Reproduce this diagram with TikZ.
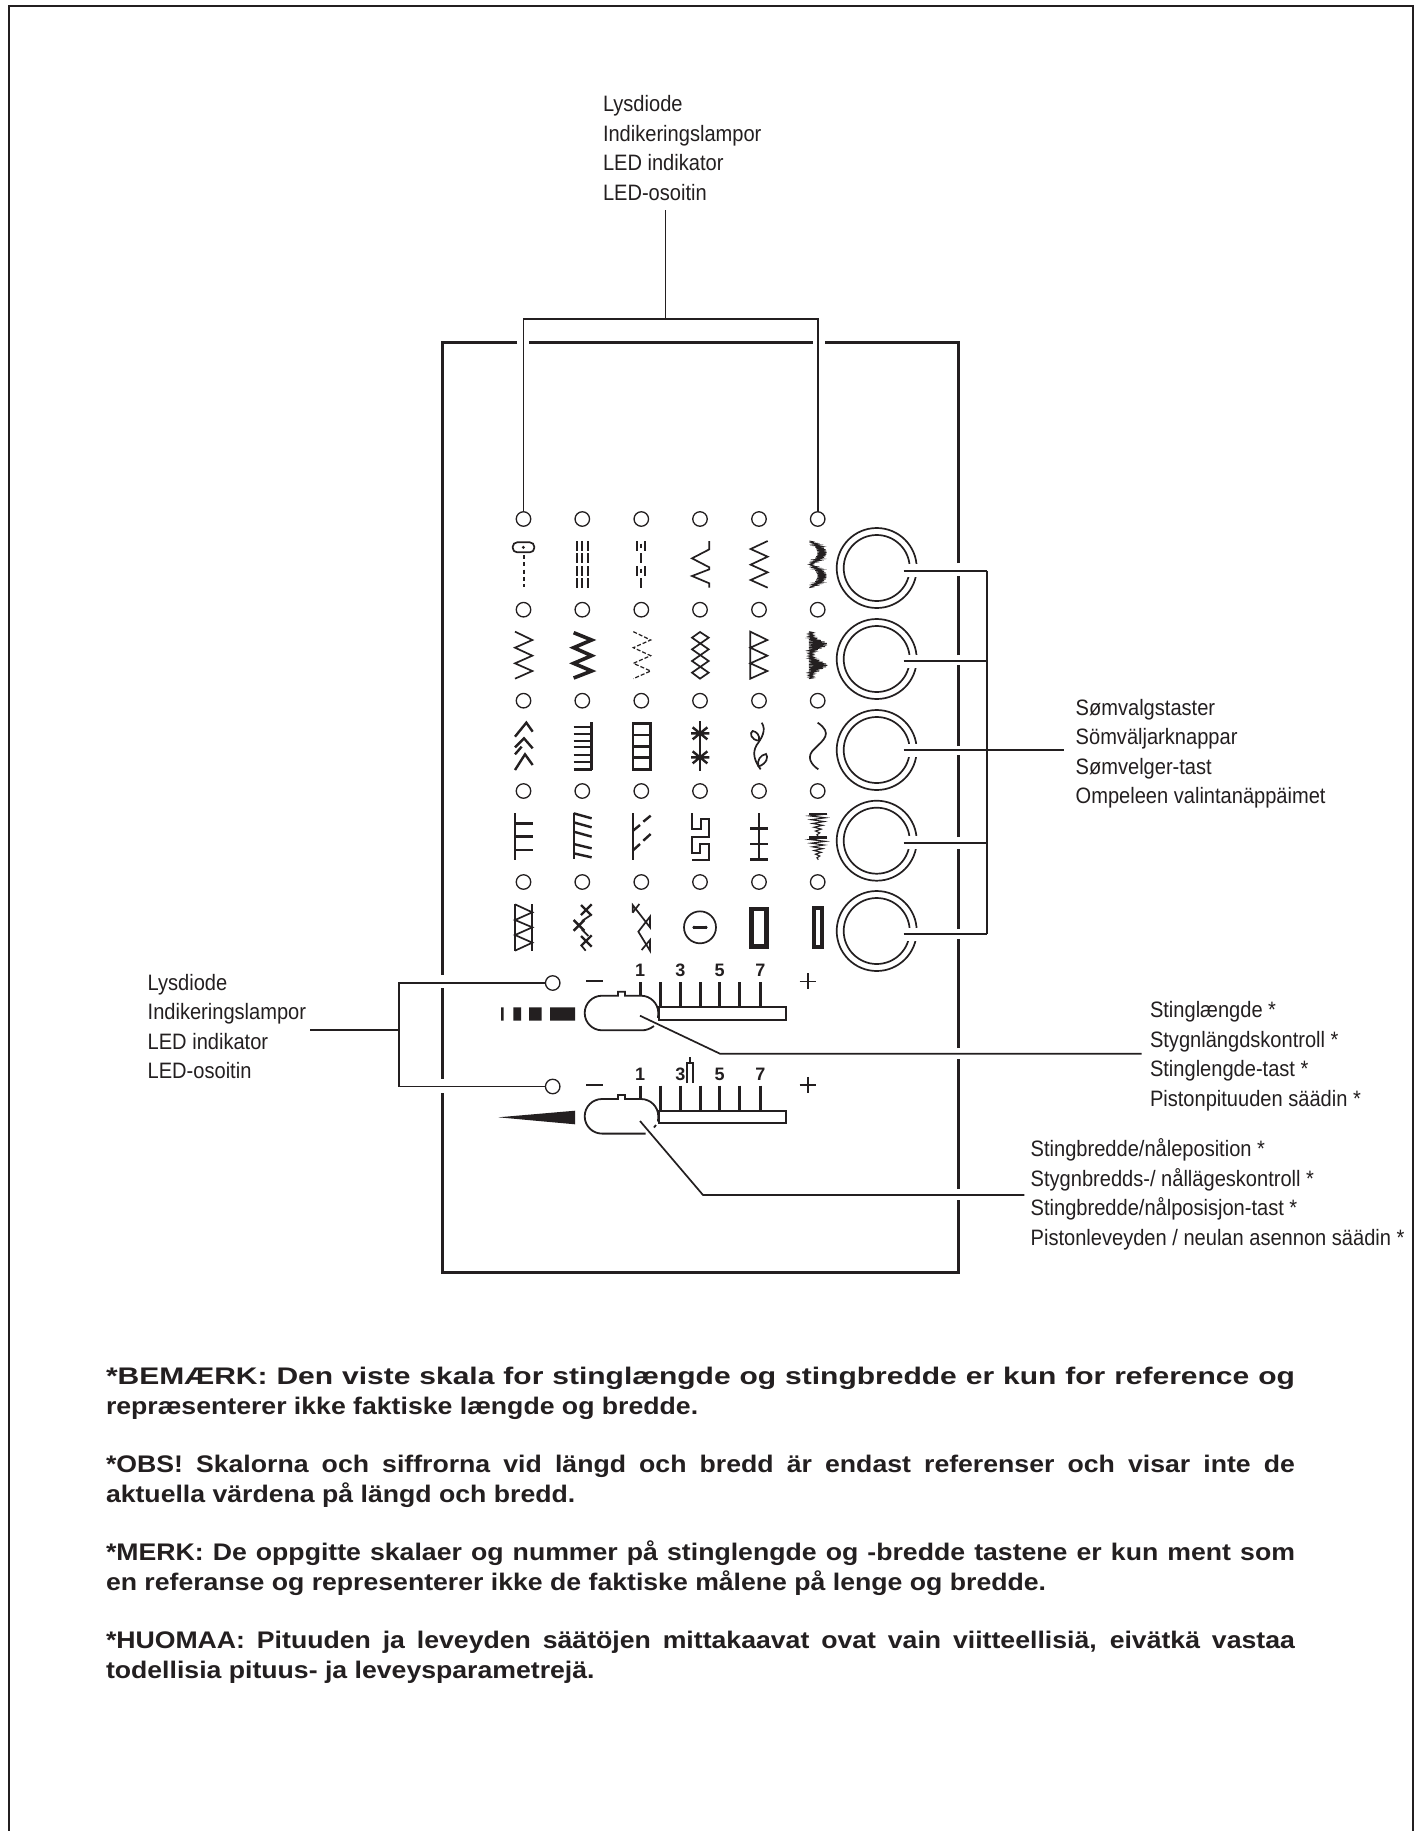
\documentclass[tikz,border=0pt]{standalone}
\usepackage{fontspec}
\setmainfont{Liberation Sans}
\newfontfamily\nfont[FakeStretch=0.9]{Liberation Sans}
\newfontfamily\notefont[FakeStretch=1.11,UprightFont=* Bold]{Liberation Sans}
\newfontfamily\notewide[FakeStretch=1.25,UprightFont=* Bold]{Liberation Sans}
\newcommand{\labtext}[1]{\nfont\fontsize{22.3}{29.5}\selectfont\begin{tabular}[t]{@{}l@{}}#1\end{tabular}}
\newcommand{\notetext}[1]{\notefont\fontsize{24}{30}\selectfont\begin{tabular}[t]{@{}l@{}}#1\end{tabular}}
\newcommand{\fullline}[1]{\makebox[1189pt][s]{#1}}
\definecolor{ink}{HTML}{231F20}
\tikzset{
  every path/.style={color=ink},
  lab/.style={anchor=base west,inner sep=0pt,outer sep=0pt,text=ink},
  note/.style={anchor=base west,inner sep=0pt,outer sep=0pt,text=ink},
  led/.style={circle,draw=ink,line width=1.3pt,minimum size=14.5pt,inner sep=0pt,outer sep=0pt},
  ring/.style={circle,draw=ink,line width=1.7pt,inner sep=0pt,outer sep=0pt},
  frameline/.style={line width=3pt,line cap=butt},
  wire/.style={line width=1.7pt,line join=miter},
  st/.style={line width=1.7pt,line join=miter},
  stb/.style={line width=2.4pt,line join=miter},
  stc/.style={line width=3.6pt,line join=miter},
  num/.style={font=\bfseries\fontsize{18}{18}\selectfont,inner sep=0pt,anchor=base,text=ink},
}
\begin{document}
\begin{tikzpicture}[x=1pt,y=-1pt]
\useasboundingbox (0,0) rectangle (1415,1831);
\fill[white] (0,0) rectangle (1415,1831);
% outer frame
\draw[line width=2pt] (9,1831) -- (9,5.5) -- (1413,5.5) -- (1413,1831);
% panel
\draw[frameline] (517,342) -- (442,342) -- (442,975);
\draw[frameline] (442,988) -- (442,1079);
\draw[frameline] (442,1093) -- (442,1272.5) -- (958,1272.5) -- (958,1200);
\draw[frameline] (958,1189) -- (958,1059);
\draw[frameline] (958,1048) -- (958,939);
\draw[frameline] (958,929) -- (958,849);
\draw[frameline] (958,837) -- (958,755);
\draw[frameline] (958,746) -- (958,665);
\draw[frameline] (958,655) -- (958,576);
\draw[frameline] (958,563) -- (958,342) -- (824.5,342);
\draw[frameline] (529,342) -- (813,342);
% LEDs
\foreach \r/\y in {1/519,2/609.7,3/700.7,4/791,5/882}{
  \foreach \c/\x in {1/523.5,2/582.3,3/641.3,4/700,5/759,6/817.7}{
    \node[led] (led\r\c) at (\x,\y) {};
  }
}
\node[led] (ledA) at (552.7,983) {};
\node[led] (ledB) at (552.7,1086.5) {};
% buttons
\foreach \r/\y/\ly in {1/568/570.7,2/659/661,3/750/750.3,4/840.7/842.7,5/931/934}{
  \node[ring,minimum size=80pt] (btn\r) at (876.7,\y) {};
  \node[ring,minimum size=66pt] (btnin\r) at (876.7,\y) {};
  \fill[white] (905,\ly-6.5) rectangle (921,\ly+6.5);
  \coordinate (bus\r) at (986.7,\ly);
  \coordinate (tap\r) at (903.5,\ly);
  \draw[wire] (tap\r) -- (bus\r);
}
% right-hand bracket
\draw[wire] (bus1) -- (bus5);
\coordinate (busend) at (1064,750.3);
\draw[wire] (bus3) -- (busend);
% labels
\node[lab] (ltop) at (603,111.7) {\labtext{Lysdiode\\Indikeringslampor\\LED indikator\\LED-osoitin}};
\node[lab] (lleft) at (147.7,990) {\labtext{Lysdiode\\Indikeringslampor\\LED indikator\\LED-osoitin}};
\node[lab] (lsew) at (1075.7,715) {\labtext{Sømvalgstaster\\Sömväljarknappar\\Sømvelger-tast\\Ompeleen valintanäppäimet}};
\node[lab] (llen) at (1150,1017.7) {\labtext{Stinglængde *\\Stygnlängdskontroll *\\Stinglengde-tast *\\Pistonpituuden säädin *}};
\node[lab] (lwid) at (1030.7,1156.7) {\labtext{Stingbredde/nåleposition *\\Stygnbredds-/ nållägeskontroll *\\Stingbredde/nålposisjon-tast *\\Pistonleveyden / neulan asennon säädin *}};
% top bracket
\coordinate (stemtop) at (665.4,210);
\coordinate (stembot) at (665.4,319.3);
\draw[wire] (stemtop) -- (stembot);
\draw[wire] (led11.north) -- (led11.north |- stembot) -- (led16.north |- stembot) -- (led16.north);
% left bracket
\coordinate (lstub) at (310,1030);
\coordinate (ljoin) at (399.3,1030);
\draw[wire] (lstub) -- (ljoin);
\draw[wire] (ledA.west) -- (ledA.west -| ljoin) -- (ledB.west -| ljoin) -- (ledB.west);
% scales
\foreach \s/\o in {a/0,b/103.5}{
  \begin{scope}[yshift=-\o pt]
  \draw[line width=1.7pt] (586,981.3) -- (602.7,981.3);
  \draw[line width=1.6pt] (807.7,973.3) -- (807.7,989.3) (799.5,981.3) -- (816,981.3);
  \draw[line width=1.7pt] (659,1007.3) rectangle (786,1019.7);
  \draw[line width=2.4pt] (640.3,982) -- (640.3,996);
  \foreach \tx in {660.3,680.3,700.3,719.3,739.3,760.3}{
    \draw[line width=2.4pt] (\tx,982) -- (\tx,1007.3);
  }
  \node[num] (n1\s) at (640,976.7) {1};
  \node[num] (n3\s) at (680.3,976.7) {3};
  \node[num] (n5\s) at (719.5,976.7) {5};
  \node[num] (n7\s) at (760.3,976.7) {7};
  \end{scope}
}
% slider outlines
\draw[line width=1.8pt] (654,1026) .. controls (650,1029) and (646,1030.3) .. (642,1030.3) -- (602,1030.3) arc[start angle=90,end angle=270,radius=17.3] -- (618,995.7) -- (618,991.7) -- (625,991.7) -- (625,995.7) -- (641,995.7) arc[start angle=-90,end angle=0,radius=17.3] -- (658,1018);
\draw[line width=1.8pt] (645.7,1133.6) -- (602,1133.6) arc[start angle=90,end angle=270,radius=17.3] -- (618,1099) -- (618,1095) -- (625,1095) -- (625,1099) -- (641,1099) arc[start angle=-90,end angle=0,radius=17.3] -- (658,1121.5);
\draw[line width=1.8pt] (654,1127.5) -- (656,1125);
% extra mark at 3
\draw[line width=1.7pt] (687,1083) -- (687,1063) -- (692.7,1063) -- (692.7,1083) (690.3,1063) -- (690.3,1057);
% length and width icons
\fill (501,1007.3) rectangle (503.7,1020.7) (513.3,1007.3) rectangle (521,1020.7) (529,1007.3) rectangle (541.7,1020.7) (550,1007.3) rectangle (575,1020.7);
\fill (498.3,1117.3) -- (575,1110.7) -- (575,1124.3) -- cycle;
% leaders
\coordinate (ln0) at (640,1015.7);
\coordinate (ln1) at (720,1053.7);
\coordinate (ln2) at (1141.7,1053.7);
\draw[wire] (ln0) -- (ln1) -- (ln2);
\coordinate (wd0) at (640,1121);
\coordinate (wd1) at (703,1195);
\coordinate (wd2) at (1024.3,1195);
\draw[wire] (wd0) -- (wd1) -- (wd2);
% stitch symbols, rows 1-2
\begin{scope}[shift={(480pt,-490pt)},x=0.33333pt,y=-0.33333pt]
 \draw[st,rounded corners=4.5pt] (98,157) rectangle (163,187);
 \fill (130,172) circle (5);
 \draw[st,dash pattern=on 4pt off 3.3pt] (132,195) -- (132,292);
 \foreach \x in {291,307,323}{\foreach \a/\b in {153/183,190/220,228/258,265/293}{\draw[st] (\x,\a) -- (\x,\b);}}
 \foreach \a/\b in {153/183,228/258}{\draw[st] (470,\a) -- (470,\b) (496,\a) -- (496,\b) (483,{\a+8}) -- (483,{\a+20});}
 \foreach \a/\b in {190/220,265/293}{\draw[st] (483,\a) -- (483,\b);}
 \draw[st] (688,153) -- (688,178) -- (636,205) -- (688,232) -- (688,238) -- (636,258) -- (688,280) -- (688,293);
 \draw[st] (863,153) -- (812,177) -- (863,200) -- (812,224) -- (863,247) -- (812,270) -- (863,293);
 \draw[line width=0.9pt] plot[domain=0:60,samples=61] ({988+24*abs(sin(\x*6))+28*sqrt(abs(sin(\x*6)))*mod(int(\x),2)},{153+\x*2.3333});
 \draw[st] (105,425) -- (157,450) -- (105,473) -- (157,497) -- (105,520) -- (157,543) -- (105,566);
 \draw[stc] (281,428) -- (335,450) -- (281,473) -- (335,497) -- (281,520) -- (335,543) -- (281,564);
 \draw[line width=1.2pt,dash pattern=on 4pt off 2pt] (460,425) -- (512,450) -- (460,473) -- (512,497) -- (460,520) -- (512,543) -- (460,566);
 \draw[st] (660,426) -- (686,443) -- (636,478) -- (686,513) -- (636,548) -- (660,566) -- (686,548) -- (636,513) -- (686,478) -- (636,443) -- cycle;
 \draw[st] (811,425) -- (811,566) -- (862,543) -- (811,520) -- (862,497) -- (811,473) -- (862,450) -- cycle;
 \draw[line width=0.9pt] plot[domain=0:60,samples=61] ({987+(12+43*abs(sin((\x*2.35-6.5)*2.857))*abs(sin((\x*2.35-6.5)*2.857))*abs(sin((\x*2.35-6.5)*2.857)))*mod(int(\x),2)},{425+\x*2.35});
\end{scope}
% rows 3-5
\begin{scope}[shift={(480pt,-720pt)},x=0.33333pt,y=-0.33333pt]
 \draw[stb] (105,50) -- (139,8) -- (158,35) (105,82) -- (132,55) -- (158,85) (105,150) -- (135,103) -- (158,135) (105,103) -- (125,80);
 \draw[stb] (335,7) -- (335,150);
 \foreach \y in {22,42,62,82,104,125}{\draw[line width=2pt] (281,\y) -- (335,\y);}
 \draw[stb] (281,148) -- (335,148);
 \draw[stb] (459,10) rectangle (511,148);
 \draw[stb] (459,45) -- (511,45) (459,80) -- (511,80) (459,113) -- (511,113);
 \draw[st] (660,3) -- (660,152);
 \foreach \y in {40,112}{\draw[stb] (633,\y) -- (688,\y) (638,{\y-18}) -- (682,{\y+18}) (682,{\y-18}) -- (638,{\y+18});}
 \draw[st] (845,8) .. controls (860,30) and (845,55) .. (830,75) .. controls (815,100) and (825,125) .. (842,148);
 \draw[st] (837,62) .. controls (812,60) and (808,38) .. (818,33) .. controls (830,35) and (840,45) .. (837,62);
 \draw[st] (835,140) .. controls (862,130) and (865,110) .. (858,102) .. controls (842,105) and (830,120) .. (835,140);
 \draw[st] (1013,8) .. controls (1060,40) and (1030,60) .. (1005,85) .. controls (975,110) and (995,135) .. (1015,148);
 % row 4
 \draw[st] (105,280) -- (105,420);
 \foreach \y in {310,350,390}{\draw[stb] (105,\y) -- (159,\y);}
 \draw[st] (281,278) -- (281,418);
 \foreach \a/\b in {280/295,307/322,335/350,372/385,400/412}{\draw[stb] (281,\a) -- (335,\b);}
 \draw[st] (458,280) -- (458,421);
 \draw[stb] (458,333) -- (480,315) (490,305) -- (512,287) (458,392) -- (480,372) (490,362) -- (512,342);
 \draw[st] (635,280) -- (635,327) -- (662,327) -- (662,298) -- (687,298) -- (687,352) -- (635,352) -- (635,398) -- (660,398) -- (660,372) -- (687,372) -- (687,420) -- (635,420);
 \draw[st] (837,280) -- (837,420);
 \foreach \y in {326,372,419}{\draw[stb] (810,\y) -- (865,\y);}
 \draw[stb] (988,282) -- (1040,282) (988,353) -- (1040,353);
 \draw[line width=1.1pt] plot[domain=0:12,samples=13] ({1014+(-1)^\x*(26*(1-\x/12)+1)},{282+\x*68/12});
 \draw[line width=1.1pt] plot[domain=0:12,samples=13] ({1014+(-1)^\x*(26*(1-\x/12)+1)},{353+\x*66/12});
 % row 5
 \draw[st] (105,552) -- (105,692) (157,552) -- (157,692);
 \draw[st] (105,553) -- (157,577) -- (105,600) -- (157,622) -- (105,645) -- (157,668) -- (105,692);
 \draw[stb] (303,585) -- (335,553) (303,555) -- (335,587);
 \draw[stb] (281,632) -- (313,600) (281,600) -- (313,632);
 \draw[stb] (303,678) -- (335,646) (303,648) -- (335,680);
 \draw[st] (330,587) -- (306,603) (305,628) -- (325,648) (303,675) -- (317,692);
 \draw[st] (458,578) -- (458,555) -- (510,622) -- (510,590) -- (475,635) -- (510,692) -- (510,660) -- (485,690);
 \draw[st] (478,552) -- (458,578);
 \draw[st] (660,622) circle (48);
 \draw[stb] (640,622) -- (680,622);
 \fill (642,622) circle (5) (678,622) circle (5);
 \draw[line width=4.7pt] (815,567) rectangle (860,680);
 \draw[line width=3.7pt] (1001.5,565) rectangle (1027,682);
\end{scope}
% notes
\node[note] (n1) at (106,1384.3) {\notetext{{\notewide\fontsize{24}{30}\selectfont\fullline{*BEMÆRK: Den viste skala for stinglængde og stingbredde er kun for reference og}}\\repræsenterer ikke faktiske længde og bredde.}};
\node[note] (n2) at (106,1472.3) {\notetext{\fullline{*OBS! Skalorna och siffrorna vid längd och bredd är endast referenser och visar inte de}\\aktuella värdena på längd och bredd.}};
\node[note] (n3) at (106,1560.7) {\notetext{\fullline{*MERK: De oppgitte skalaer og nummer på stinglengde og -bredde tastene er kun ment som}\\en referanse og representerer ikke de faktiske målene på lenge og bredde.}};
\node[note] (n4) at (106,1648.7) {\notetext{\fullline{*HUOMAA: Pituuden ja leveyden säätöjen mittakaavat ovat vain viitteellisiä, eivätkä vastaa}\\todellisia pituus- ja leveysparametrejä.}};
\end{tikzpicture}
\end{document}
